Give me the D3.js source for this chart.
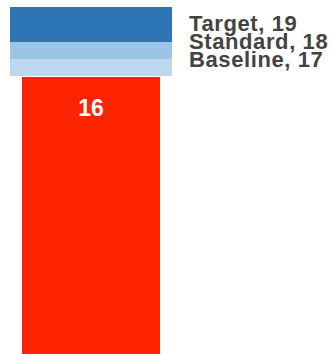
<!DOCTYPE html>
<html>
<head>
<meta charset="utf-8">
<script src="https://cdn.jsdelivr.net/npm/d3@7"></script>
<style>
  body { margin: 0; background: #fff; }
  svg { display: block; }
</style>
</head>
<body>
<svg id="chart" width="332" height="354"></svg>
<script>
const svg = d3.select('svg#chart');

// data
const measure = 16;
const rangeNames = ['Baseline', 'Standard', 'Target'];
const rangeValues = [17, 18, 19];
const rangeColors = ['#bdd7ee', '#9dc3e6', '#2e75b6'];
const domainMax = 20;

const yScale = d3.scaleLinear()
  .domain([0, domainMax])
  .range([357, 7]);

const xScale = d3.scaleBand()
  .domain(['bullet'])
  .range([10, 172]);

// stacked bands above the measure: measure->17, 17->18, 18->max
const bandTops = rangeValues.map((v, i) => i === rangeValues.length - 1 ? domainMax : v);
const bandBottoms = rangeValues.map((v, i) => i === 0 ? measure : rangeValues[i - 1]);

svg.selectAll('rect.band')
  .data(rangeValues)
  .enter().append('rect')
    .attr('class', 'band')
    .attr('x', xScale('bullet'))
    .attr('width', xScale.bandwidth())
    .attr('y', (d, i) => yScale(bandTops[i]))
    .attr('height', (d, i) => yScale(bandBottoms[i]) - yScale(bandTops[i]) - (i === 0 ? 1 : 0))
    .attr('fill', (d, i) => rangeColors[i]);

const inset = 12;
svg.append('rect')
  .attr('class', 'measure')
  .attr('x', xScale('bullet') + inset)
  .attr('width', xScale.bandwidth() - inset * 2)
  .attr('y', yScale(measure))
  .attr('height', yScale(0) - yScale(measure))
  .attr('fill', '#ff2400');

svg.append('text')
  .attr('x', xScale('bullet') + xScale.bandwidth() / 2)
  .attr('y', yScale(measure) + 39)
  .attr('text-anchor', 'middle')
  .attr('fill', '#fff')
  .style('font', 'bold 23px "Liberation Sans", Arial, sans-serif')
  .text(measure);

// legend labels, top to bottom
const labelOrder = d3.range(rangeValues.length).reverse();
svg.selectAll('text.label')
  .data(labelOrder)
  .enter().append('text')
    .attr('class', 'label')
    .attr('x', 189)
    .attr('y', (d, i) => 31 + i * 18)
    .attr('fill', '#434343')
    .style('font', 'bold 22px "Liberation Sans", Arial, sans-serif')
    .style('letter-spacing', '0.6px')
    .text(d => `${rangeNames[d]}, ${rangeValues[d]}`);
</script>
</body>
</html>
